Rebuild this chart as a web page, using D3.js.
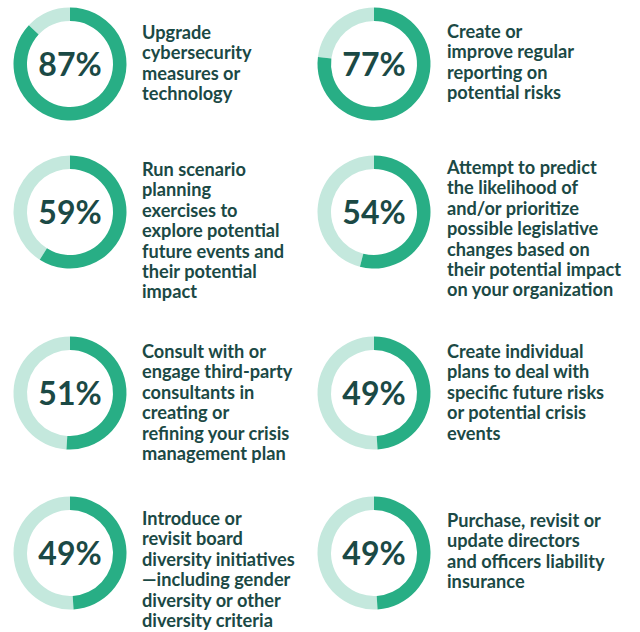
<!DOCTYPE html>
<html>
<head>
<meta charset="utf-8">
<script src="https://cdn.jsdelivr.net/npm/d3@7"></script>
<style>
  body { margin: 0; background: #fff; }
  svg { display: block; }
</style>
</head>
<body>
<div id="chart"></div>
<script>
// values, read row by row (left, right)
const values = [87, 77, 59, 54, 51, 49, 49, 49]
const labels = [
  ['Upgrade', 'cybersecurity', 'measures or', 'technology'],
  ['Create or', 'improve regular', 'reporting on', 'potential risks'],
  ['Run scenario', 'planning', 'exercises to', 'explore potential', 'future events and', 'their potential', 'impact'],
  ['Attempt to predict', 'the likelihood of', 'and/or prioritize', 'possible legislative', 'changes based on', 'their potential impact', 'on your organization'],
  ['Consult with or', 'engage third-party', 'consultants in', 'creating or', 'refining your crisis', 'management plan'],
  ['Create individual', 'plans to deal with', 'specific future risks', 'or potential crisis', 'events'],
  ['Introduce or', 'revisit board', 'diversity initiatives', '\u2014including gender', 'diversity or other', 'diversity criteria'],
  ['Purchase, revisit or', 'update directors', 'and officers liability', 'insurance']
]

// layout
const width = 640, height = 632
const colX = [70, 374]
const textX = [142, 447]
const rowY = [64, 212, 393, 553]
const firstBaseline = [[39, 38], [176, 174], [358, 358], [525, 527]]
const lineH = 20.4
const outerR = 56.5, ring = 13.5

const dark = '#28ae85', light = '#c4e8dd', ink = '#1b4945'

const svg = d3.select('#chart').append('svg')
  .attr('width', width)
  .attr('height', height)

const angle = d3.scaleLinear().domain([0, 100]).range([0, 2 * Math.PI])

const arc = d3.arc()
  .innerRadius(outerR - ring)
  .outerRadius(outerR)

const cells = svg.selectAll('.cell')
  .data(values.map((v, i) => ({v, lines: labels[i], row: Math.floor(i / 2), col: i % 2})))
  .join('g')
  .attr('class', 'cell')

const donut = cells.append('g')
  .attr('transform', d => `translate(${colX[d.col]},${rowY[d.row]})`)

donut.append('path')
  .attr('fill', light)
  .attr('d', d => arc({startAngle: angle(d.v), endAngle: angle(100)}))

donut.append('path')
  .attr('fill', dark)
  .attr('d', d => arc({startAngle: 0, endAngle: angle(d.v)}))

donut.append('text')
  .attr('text-anchor', 'middle')
  .attr('y', 12)
  .attr('font-family', 'Lato, sans-serif')
  .attr('font-weight', 700)
  .attr('font-size', 32)
  .attr('fill', ink)
  .text(d => d.v + '%')

cells.append('text')
  .attr('font-family', 'Lato, sans-serif')
  .attr('font-weight', 700)
  .attr('font-size', 18.2)
  .attr('fill', ink)
  .selectAll('tspan')
  .data(d => d.lines.map((t, j) => ({t, j, d})))
  .join('tspan')
  .attr('x', e => textX[e.d.col])
  .attr('y', e => firstBaseline[e.d.row][e.d.col] + e.j * lineH)
  .text(e => e.t)
</script>
</body>
</html>
